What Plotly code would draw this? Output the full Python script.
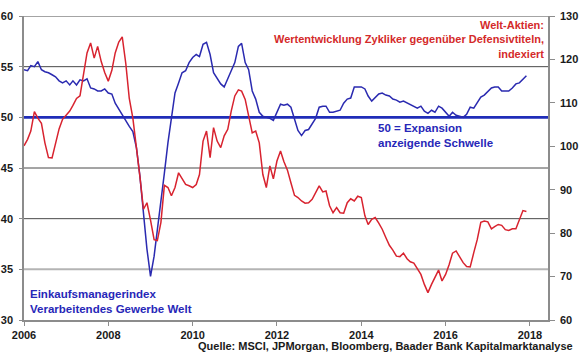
import pandas as pd
import plotly.graph_objects as go

# ---- data (monthly, Jan 2006 .. Dec 2017) ----
start_month = "2006-01-01"
n_months = 144
months = pd.date_range(start_month, periods=n_months, freq="MS")

pmi_world = [
    54.7, 54.6, 55.1, 55.0, 55.5, 54.7, 54.5, 54.4, 54.2, 54.0, 53.6, 53.4,
    53.6, 53.2, 53.6, 53.2, 53.7, 53.6, 53.8, 52.9, 52.8, 52.6, 52.6, 52.8,
    52.4, 52.3, 51.4, 50.8, 50.2, 49.6, 49.1, 48.6, 47.0, 44.2, 40.6, 37.0,
    34.3, 36.3, 38.9, 41.6, 44.5, 47.5, 50.1, 52.4, 53.4, 54.4, 54.6, 55.4,
    55.9, 56.2, 56.0, 57.2, 57.4, 56.2, 54.4, 53.8, 53.3, 53.0, 53.9, 54.6,
    55.4, 57.0, 57.3, 55.4, 54.7, 52.6, 51.8, 50.5, 50.1, 50.0, 49.9, 49.7,
    50.5, 51.3, 51.2, 51.3, 51.0, 49.8, 48.7, 48.2, 48.7, 48.8, 49.3, 49.9,
    51.0, 51.1, 51.1, 50.5, 50.5, 50.6, 50.7, 51.4, 51.8, 51.9, 53.0, 53.0,
    53.0, 52.8, 52.1, 51.6, 52.0, 52.3, 52.4, 52.2, 52.1, 51.8, 51.7, 51.5,
    51.6, 51.4, 51.3, 51.1, 50.9, 51.1, 50.6, 50.4, 50.7, 50.5, 51.1, 50.9,
    50.5, 50.1, 50.5, 50.2, 50.1, 50.0, 50.3, 51.0, 50.9, 51.4, 52.0, 52.2,
    52.6, 52.9, 53.0, 53.0, 52.6, 52.6, 52.6, 52.9, 53.3, 53.4, 53.75, 54.1,
]

cyclicals_vs_defensives = [
    100.1, 101.6, 103.5, 108.0, 106.5, 105.3, 100.8, 97.4, 97.3, 100.5, 104.0, 106.2,
    107.1, 108.1, 109.4, 111.0, 111.6, 116.5, 121.5, 123.8, 120.3, 123.0, 119.5, 117.0,
    115.0, 117.5, 121.5, 124.0, 125.2, 119.0, 111.0, 106.5, 100.0, 93.0, 85.5, 87.0,
    83.0, 78.5, 78.3, 82.5, 91.0, 90.5, 88.6, 90.5, 93.9, 92.4, 91.2, 90.9,
    90.5, 91.2, 93.5, 101.2, 103.5, 97.4, 104.3, 101.2, 99.7, 102.4, 103.9, 108.1,
    111.6, 113.0, 112.7, 110.8, 107.0, 103.1, 103.5, 100.8, 93.5, 90.5, 95.5, 92.5,
    96.6, 98.9, 96.5, 94.5, 91.6, 88.7, 88.2, 87.4, 86.9, 87.0, 87.8, 89.3,
    90.9, 89.5, 89.7, 86.3, 84.7, 85.9, 84.7, 84.6, 87.0, 87.9, 87.4, 88.5,
    88.2, 84.0, 82.0, 83.2, 83.6, 82.3, 80.9, 79.0, 77.2, 76.1, 74.7, 74.6,
    75.4, 74.1, 73.4, 73.1, 71.8, 70.5, 68.2, 66.3, 68.2, 69.8, 71.5, 69.0,
    70.5, 72.8, 75.4, 75.9, 74.5, 73.2, 72.3, 72.2, 75.5, 78.5, 82.5, 82.8,
    82.6, 81.0, 81.5, 82.0, 81.8, 80.8, 80.6, 81.0, 81.0, 83.0, 85.2, 85.0,
]

expansion_threshold = 50
left_ticks = [30, 35, 40, 45, 50, 55, 60]
right_ticks = [60, 70, 80, 90, 100, 110, 120, 130]
year_ticks = [2006, 2008, 2010, 2012, 2014, 2016, 2018]

FONT = "Liberation Sans, Arial, sans-serif"
RED = "#d8232f"
BLUE = "#2a2ab0"
TXT_BLUE = "#2727b8"
TXT_RED = "#d42a2a"

fig = go.Figure()
fig.add_trace(go.Scatter(x=months, y=pmi_world, mode="lines",
                         line=dict(color=BLUE, width=1.5), yaxis="y",
                         showlegend=False))
fig.add_trace(go.Scatter(x=months, y=cyclicals_vs_defensives, mode="lines",
                         line=dict(color=RED, width=1.5), yaxis="y2",
                         showlegend=False))

# gridlines (left axis)
for v in [60, 55, 45, 40]:
    fig.add_shape(type="line", xref="paper", x0=0, x1=1, yref="y", y0=v, y1=v,
                  line=dict(color="#4a4a4a", width=1), layer="below")
fig.add_shape(type="line", xref="paper", x0=0, x1=1, yref="y", y0=35, y1=35,
              line=dict(color="#b4b4b4", width=2), layer="below")
# expansion threshold
fig.add_shape(type="line", xref="paper", x0=0, x1=1, yref="y",
              y0=expansion_threshold, y1=expansion_threshold,
              line=dict(color="#1f2db8", width=2.6), layer="below")

tickfont = dict(family=FONT, size=11, color="#1a1a1a", weight="bold")

fig.update_layout(
    width=580, height=359,
    margin=dict(l=24, r=32, t=16, b=39, autoexpand=False),
    paper_bgcolor="white", plot_bgcolor="white",
    xaxis=dict(type="date", range=["2006-01-01", "2018-06-06"],
               tickvals=[f"{y}-01-01" for y in year_ticks],
               ticktext=[str(y) for y in year_ticks],
               showgrid=False, zeroline=False, automargin=False,
               showline=True, linecolor="#8c8c8c", linewidth=1.5,
               ticks="outside", ticklen=4, tickcolor="#8c8c8c",
               tickfont=tickfont),
    yaxis=dict(range=[30, 60], tickvals=left_ticks, showgrid=False, zeroline=False,
               automargin=False,
               showline=True, linecolor="#8c8c8c", linewidth=1.5,
               ticks="outside", ticklen=3, tickcolor="#8c8c8c",
               tickfont=tickfont, ticklabelstandoff=4),
    yaxis2=dict(range=[60, 130], tickvals=right_ticks, overlaying="y", side="right",
                showgrid=False, zeroline=False, automargin=False,
                showline=True, linecolor="#8c8c8c", linewidth=1.5,
                ticks="outside", ticklen=5, tickcolor="#8c8c8c",
                tickfont=tickfont, ticklabelstandoff=3),
)

fig.add_annotation(xref="paper", yref="paper", x=0.996, y=0.998,
                   xanchor="right", yanchor="top", align="right", showarrow=False,
                   text="Welt-Aktien:<br>Wertentwicklung Zykliker gegenüber Defensivtiteln,<br>indexiert",
                   font=dict(family=FONT, size=11, color=TXT_RED, weight="bold"))
fig.add_annotation(xref="paper", yref="paper", x=0.672, y=0.659,
                   xanchor="left", yanchor="top", align="left", showarrow=False,
                   text="50 = Expansion<br>anzeigende Schwelle",
                   font=dict(family=FONT, size=11.5, color=TXT_BLUE, weight="bold"))
fig.add_annotation(xref="paper", yref="paper", x=0.008, y=0.112,
                   xanchor="left", yanchor="top", align="left", showarrow=False,
                   text="Einkaufsmanagerindex<br>Verarbeitendes Gewerbe Welt",
                   font=dict(family=FONT, size=11.5, color=TXT_BLUE, weight="bold"))
fig.add_annotation(xref="paper", yref="paper", x=1.0515, y=-0.087,
                   xanchor="right", yanchor="middle", align="right", showarrow=False,
                   text="Quelle: MSCI, JPMorgan, Bloomberg, Baader Bank Kapitalmarktanalyse",
                   font=dict(family=FONT, size=11, color="#1a1a1a", weight="bold"))

fig.write_html("out.html", config={"displayModeBar": False},
               post_script="document.body.style.margin='0';document.body.style.padding='0';")
